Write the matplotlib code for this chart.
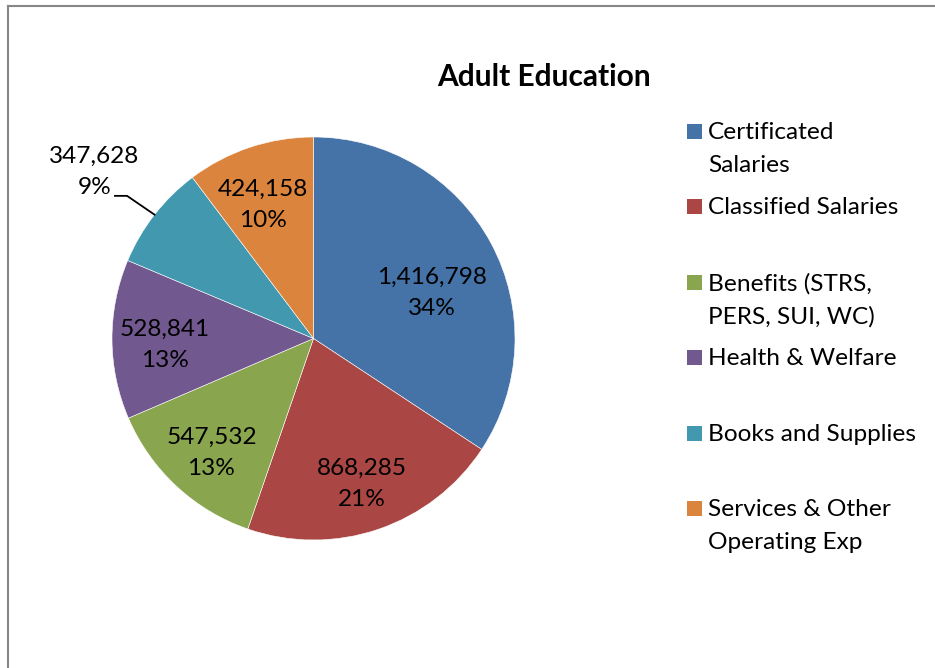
import numpy as np
import matplotlib
matplotlib.use("Agg")
import matplotlib.pyplot as plt
from matplotlib.patches import Rectangle
from matplotlib.lines import Line2D

categories = ["Certificated\nSalaries", "Classified Salaries", "Benefits (STRS,\nPERS, SUI, WC)",
              "Health & Welfare", "Books and Supplies", "Services & Other\nOperating Exp"]
values = [1416798, 868285, 547532, 528841, 347628, 424158]
pct_labels = ["34%", "21%", "13%", "13%", "9%", "10%"]
colors = ["#4572A7", "#AA4643", "#89A54E", "#71588F", "#4198AF", "#DB843D"]
title = "Adult Education"

FONT = "Lato"
plt.rcParams["font.family"] = [FONT, "DejaVu Sans"]

W, H = 935, 668
fig = plt.figure(figsize=(W / 100, H / 100), dpi=100)

cx, cy, R = 313.5, 338.5, 201.5
ax = fig.add_axes([(cx - R) / W, (H - cy - R) / H, 2 * R / W, 2 * R / H])
wedges, _ = ax.pie(values, colors=colors, startangle=90, counterclock=False, radius=1,
                   wedgeprops=dict(edgecolor="white", linewidth=0.4))
ax.set_xlim(-1, 1)
ax.set_ylim(-1, 1)
ax.set_aspect("equal")
ax.axis("off")

fs = 17.6
# label placement: radial distance and angular offset per wedge
dist = [0.63, 0.76, 0.76, 0.74, 1.365, 0.71]
ang_off = [-7.3, -0.4, 1.1, 2.2, 0.7, 2.2]
for i, w in enumerate(wedges):
    mid = (w.theta1 + w.theta2) / 2
    th = np.deg2rad(mid + ang_off[i])
    x, y = dist[i] * np.cos(th), dist[i] * np.sin(th)
    ax.text(x, y, f"{values[i]:,}\n{pct_labels[i]}", ha="center", va="center",
            fontsize=fs, color="black", linespacing=1.58)
    if dist[i] > 1:
        t0 = np.deg2rad(mid)
        ex, ey = np.cos(t0), np.sin(t0)
        kx, ky = 1.165 * np.cos(np.deg2rad(mid + 0.5)), 1.165 * np.sin(np.deg2rad(mid + 0.5))
        ax.plot([ex, kx, kx - 0.06], [ey, ky, ky], color="black", lw=1.3, clip_on=False)

fig.text(544 / W, 1 - 77 / H, title, ha="center", va="center", fontsize=21.5, fontweight="bold")

# legend (manual)
for i, lab in enumerate(categories):
    yc = 131.5 + 75.4 * i
    fig.patches.append(Rectangle((687 / W, 1 - (yc + 7.5) / H), 15 / W, 15 / H,
                                 transform=fig.transFigure, facecolor=colors[i], edgecolor="none"))
    fig.text(708 / W, 1 - (yc - 9.5) / H, lab, ha="left", va="top", fontsize=fs, linespacing=1.68)

# chart border (top and left visible)
fig.add_artist(Line2D([7.5 / W, 1], [1 - 6 / H, 1 - 6 / H], transform=fig.transFigure, color="#868686", lw=1.5))
fig.add_artist(Line2D([7.5 / W, 7.5 / W], [0, 1 - 6 / H], transform=fig.transFigure, color="#868686", lw=1.5))

fig.savefig("out.png", dpi=100, facecolor="white")
